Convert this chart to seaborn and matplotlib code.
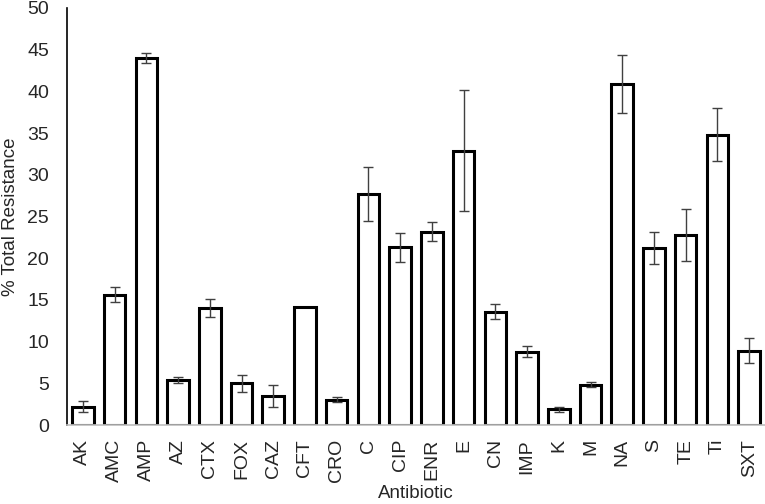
import matplotlib
matplotlib.use("Agg")
import matplotlib.pyplot as plt
import numpy as np
import pandas as pd
import seaborn as sns

antibiotics = ["AK", "AMC", "AMP", "AZ", "CTX", "FOX", "CAZ", "CFT", "CRO", "C",
               "CIP", "ENR", "E", "CN", "IMP", "K", "M", "NA", "S", "TE", "Ti", "SXT"]
resistance = [2.2, 15.6, 44.0, 5.4, 14.0, 5.0, 3.5, 14.2, 3.0, 27.7,
              21.3, 23.2, 32.9, 13.6, 8.8, 1.9, 4.8, 40.9, 21.2, 22.8, 34.8, 8.9]
error = [0.7, 0.9, 0.6, 0.4, 1.1, 1.0, 1.3, np.nan, 0.3, 3.2,
         1.7, 1.1, 7.3, 0.9, 0.7, 0.3, 0.3, 3.5, 1.9, 3.1, 3.2, 1.5]

df = pd.DataFrame({"antibiotic": antibiotics, "resistance": resistance, "err": error})

sns.set_style("white")
plt.rcParams["font.family"] = ["Liberation Sans", "DejaVu Sans"]

fig = plt.figure(figsize=(7.65, 5.04), dpi=100)
ax = fig.add_axes([67 / 765, 1 - 425 / 504, 1 - 67 / 765, (425 - 8) / 504])

sns.barplot(data=df, x="antibiotic", y="resistance", color="white",
            edgecolor="black", linewidth=2.2, width=0.68, errorbar=None, ax=ax)

# error bars only where a value exists
has_err = df["err"].notna()
ax.errorbar(np.arange(len(df))[has_err], df.loc[has_err, "resistance"],
            yerr=df.loc[has_err, "err"], fmt="none", ecolor="#404040",
            elinewidth=1, capsize=3.5, capthick=1)

ax.set_ylim(0, 50)
ax.set_xlim(-0.5, len(df) - 0.5)
ax.set_yticks(range(0, 51, 5))
ax.tick_params(axis="both", length=0, labelsize=14, colors="#262626")
ax.tick_params(axis="y", pad=13)
ax.tick_params(axis="x", rotation=90, pad=10)
ax.set_xlabel("Antibiotic", fontsize=13.5, color="#262626", labelpad=2)
ax.set_ylabel("% Total Resistance", fontsize=13.5, color="#262626", labelpad=6)

sns.despine(ax=ax, top=True, right=True)
ax.spines["left"].set_color("black")
ax.spines["left"].set_linewidth(1.2)
ax.spines["bottom"].set_color("#bfbfbf")
ax.spines["bottom"].set_linewidth(1.2)

fig.savefig("out.png", dpi=100)
